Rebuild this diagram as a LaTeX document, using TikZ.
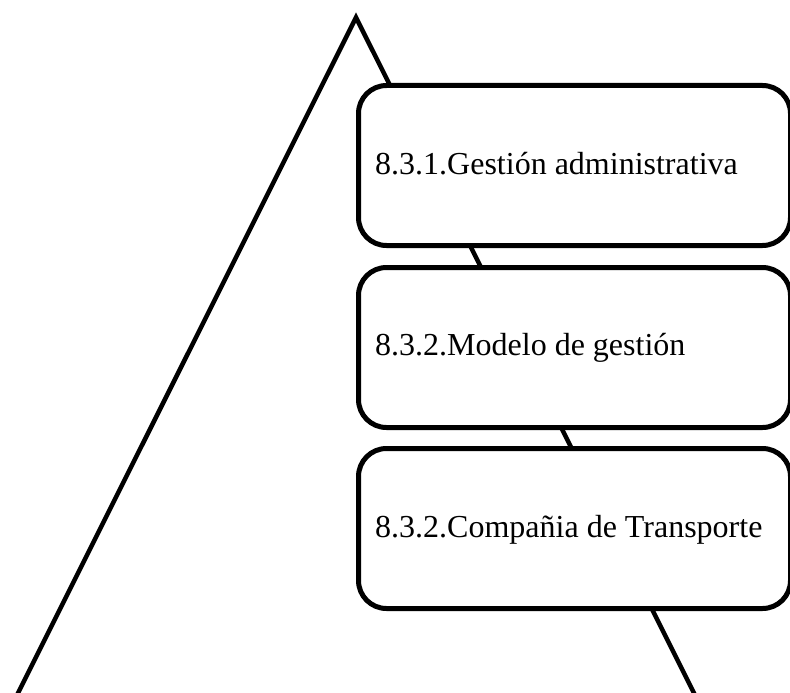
\documentclass[tikz,border=0pt]{standalone}
\usepackage{fontspec}
\setmainfont{Liberation Serif}
\begin{document}
\begin{tikzpicture}[x=1pt,y=-1pt,
  box/.style={draw=black, line width=5pt, fill=white, rounded corners=28pt, rectangle, anchor=north west, minimum width=432pt, minimum height=160pt, inner sep=0pt},
  lbl/.style={anchor=base west, font=\fontsize{32}{38}\selectfont, inner sep=0pt},
  edge/.style={draw=black, line width=4.5pt, line join=miter}]
\useasboundingbox (0,0) rectangle (790,693);
\clip (0,0) rectangle (790,693);
\fill[white] (0,0) rectangle (790,693);
\coordinate (apex) at (356,17.5);
\coordinate (bl) at (-15.5,760);
\coordinate (br) at (727.5,760);
\draw[edge] (bl) -- (apex) -- (br);
\node[box] (b1) at (356,83) {};
\node[box] (b2) at (356,265) {};
\node[box] (b3) at (356,446) {};
\node[lbl] (t1) at (375,174) {8.3.1.Gestión administrativa};
\node[lbl] (t2) at (375,355) {8.3.2.Modelo de gestión};
\node[lbl] (t3) at (375,537) {8.3.2.Compañia de Transporte};
\end{tikzpicture}
\end{document}
